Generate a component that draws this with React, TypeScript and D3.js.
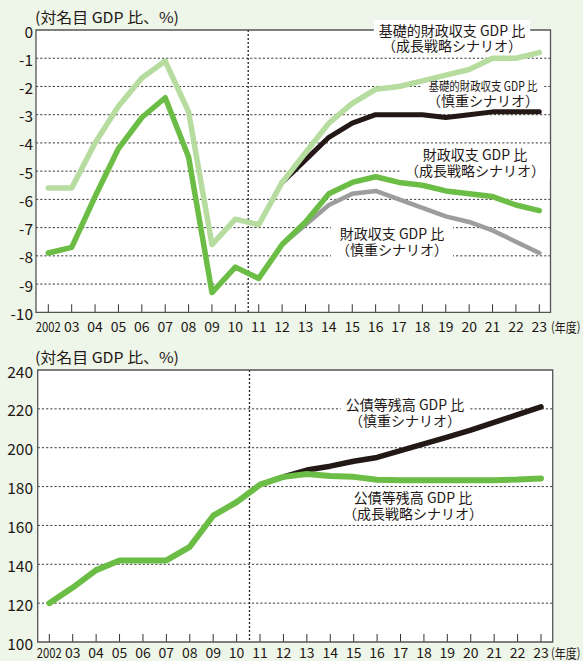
import { useLayoutEffect, useRef, useState } from "react";
import * as d3 from "d3";

// fiscal years on the x axis
const years = [2002, 2003, 2004, 2005, 2006, 2007, 2008, 2009, 2010, 2011, 2012,
  2013, 2014, 2015, 2016, 2017, 2018, 2019, 2020, 2021, 2022, 2023];
const yearLabels = ["2002", "03", "04", "05", "06", "07", "08", "09", "10", "11", "12",
  "13", "14", "15", "16", "17", "18", "19", "20", "21", "22", "23"];
const scenarioYears = [2012, 2013, 2014, 2015, 2016, 2017, 2018, 2019, 2020, 2021, 2022, 2023];

// top chart: balances (% of nominal GDP)
const primaryGrowth = [-5.6, -5.6, -4.0, -2.7, -1.7, -1.1, -2.9, -7.6, -6.7, -6.9, -5.4,
  -4.35, -3.3, -2.6, -2.1, -2.0, -1.8, -1.6, -1.4, -1.0, -1.0, -0.8];
const primaryCautious = [-5.4, -4.6, -3.8, -3.3, -3.0, -3.0, -3.0, -3.1, -3.0, -2.9, -2.9, -2.9];
const balanceGrowth = [-7.9, -7.7, -5.9, -4.2, -3.1, -2.4, -4.5, -9.3, -8.4, -8.8, -7.6,
  -6.8, -5.8, -5.4, -5.2, -5.4, -5.5, -5.7, -5.8, -5.9, -6.2, -6.4];
const balanceCautious = [-7.6, -6.9, -6.2, -5.8, -5.7, -6.0, -6.3, -6.6, -6.8, -7.1, -7.5, -7.9];
const topTicks = [0, -1, -2, -3, -4, -5, -6, -7, -8, -9, -10];

// bottom chart: public debt outstanding (% of nominal GDP)
const debtGrowth = [120, 128, 137, 142, 142, 142, 149, 165, 172, 181, 185,
  186.5, 185.5, 185, 183.5, 183.3, 183.2, 183.2, 183.2, 183.3, 183.6, 184.2];
const debtCautious = [185, 188.5, 190.5, 193, 195, 198.5, 202, 205.5, 209, 213, 217, 221];
const bottomTicks = [100, 120, 140, 160, 180, 200, 220, 240];

const BG = "#eef5e9";
const INK = "#231815";
const LIGHT_GREEN = "#b7dca0";
const GREEN = "#6cbd45";
const GRAY = "#9d9d9f";
const FONT = "'Noto Sans CJK JP', 'Noto Sans', sans-serif";

type Line = { text: string; size: number; dy: number; len?: number };

const Label = ({ x, y, lines }: { x: number; y: number; lines: Line[] }) => {
  const ref = useRef<SVGGElement>(null);
  const [box, setBox] = useState<DOMRect | null>(null);
  useLayoutEffect(() => {
    if (ref.current) setBox(ref.current.getBBox());
  }, []);
  return (
    <g>
      {box && (
        <rect x={box.x - 5} y={box.y} width={box.width + 10} height={box.height} fill="#fff" />
      )}
      <g ref={ref}>
        {lines.map((l, i) => (
          <text key={i} x={x} y={y + l.dy} textAnchor="middle" fontSize={l.size}
            fill={INK} fontFamily={FONT}
            {...(l.len ? { textLength: l.len, lengthAdjust: "spacingAndGlyphs" } : {})}>
            {l.text}
          </text>
        ))}
      </g>
    </g>
  );
};

const Axes = ({ x, y, left, right, top, bottom, ticks, grid, gap, labelDy }: any) => (
  <g>
    <rect x={left} y={top} width={right - left} height={bottom - top} fill="#fff" />
    {grid.map((t: number) => (
      <line key={t} x1={left} x2={right} y1={y(t)} y2={y(t)} stroke="#3a3a3a"
        strokeWidth={1} strokeDasharray="2.2,2" />
    ))}
    <line x1={x(2010.55)} x2={x(2010.55)} y1={top} y2={bottom} stroke="#222"
      strokeWidth={1.3} strokeDasharray="2,2" />
    {years.map((yr) => (
      <line key={yr} x1={x(yr)} x2={x(yr)} y1={bottom} y2={bottom - 8} stroke="#333" strokeWidth={1} />
    ))}
    <path
      d={gap
        ? `M${gap[0]},${top}H${left}V${bottom}H${right}V${top}H${gap[1]}`
        : `M${left},${top}H${right}V${bottom}H${left}Z`}
      fill="none" stroke="#555" strokeWidth={1.3} />
    {ticks.map((t: number) => (
      <text key={t} x={33} y={y(t) + 7.5} textAnchor="end" fontSize={15.5} fill={INK} fontFamily={FONT}>
        {t}
      </text>
    ))}
    {years.map((yr, i) => (
      <text key={yr} x={x(yr)} y={bottom + labelDy} textAnchor="middle" fontSize={14} fill={INK}
        fontFamily={FONT}
        {...(i === 0 ? { textLength: 25, lengthAdjust: "spacingAndGlyphs" } : {})}>
        {yearLabels[i]}
      </text>
    ))}
    <text x={551} y={bottom + labelDy} fontSize={13} fill={INK} fontFamily={FONT}
      textLength={29.5} lengthAdjust="spacingAndGlyphs">(年度)</text>
    <text x={35} y={top - 7} fontSize={15} fill={INK} fontFamily={FONT}
      textLength={144} lengthAdjust="spacingAndGlyphs">(対名目 GDP 比、%)</text>
  </g>
);

export default function App() {
  const xTop = d3.scaleLinear().domain([2002, 2023]).range([48.3, 539.3]);
  const yTop = d3.scaleLinear().domain([-10, 0]).range([312.3, 30]);
  const xBot = d3.scaleLinear().domain([2002, 2023]).range([49.3, 541]);
  const yBot = d3.scaleLinear().domain([100, 240]).range([642, 370]);

  const path = (xs: d3.ScaleLinear<number, number>, ys: d3.ScaleLinear<number, number>,
    yrs: number[], vals: number[]) =>
    d3.line<number>().x((_, i) => xs(yrs[i])).y((v) => ys(v))(vals) || "";

  const series = (d: string, color: string, w: number) => (
    <path d={d} fill="none" stroke={color} strokeWidth={w} strokeLinejoin="round" strokeLinecap="round" />
  );

  return (
    <svg width={583} height={661} style={{ position: "absolute", left: 0, top: 0, background: BG }}>
      <rect width={583} height={661} fill={BG} />

      {/* top chart */}
      <Axes x={xTop} y={yTop} left={36} right={550.5} top={30} bottom={312.3} labelDy={20}
        ticks={topTicks} grid={[-1, -2, -3, -4, -5, -6, -7, -8, -9]} gap={[376, 529]} />
      <Label x={452} y={36} lines={[
        { text: "基礎的財政収支 GDP 比", size: 14, dy: 0 },
        { text: "（成長戦略シナリオ）", size: 14, dy: 15 }]} />
      <Label x={483} y={91} lines={[
        { text: "基礎的財政収支 GDP 比", size: 12.5, dy: 0, len: 109 },
        { text: "（慎重シナリオ）", size: 14, dy: 15 }]} />
      <Label x={475} y={160} lines={[
        { text: "財政収支 GDP 比", size: 14, dy: 0 },
        { text: "（成長戦略シナリオ）", size: 14, dy: 15.5 }]} />
      <Label x={392} y={239} lines={[
        { text: "財政収支 GDP 比", size: 14, dy: 0 },
        { text: "（慎重シナリオ）", size: 14, dy: 15.5 }]} />
      {series(path(xTop, yTop, scenarioYears, primaryCautious), INK, 5)}
      {series(path(xTop, yTop, years, primaryGrowth), LIGHT_GREEN, 5.5)}
      {series(path(xTop, yTop, scenarioYears, balanceCautious), GRAY, 4.5)}
      {series(path(xTop, yTop, years, balanceGrowth), GREEN, 5.5)}

      {/* bottom chart */}
      <Axes x={xBot} y={yBot} left={37.7} right={552.7} top={370} bottom={642} labelDy={16}
        ticks={bottomTicks} grid={[120, 140, 160, 180, 200, 220]} />
      <Label x={405} y={410} lines={[
        { text: "公債等残高 GDP 比", size: 14, dy: 0 },
        { text: "（慎重シナリオ）", size: 14, dy: 15.5 }]} />
      <Label x={413} y={503} lines={[
        { text: "公債等残高 GDP 比", size: 14, dy: 0 },
        { text: "（成長戦略シナリオ）", size: 14, dy: 15.5 }]} />
      {series(path(xBot, yBot, scenarioYears, debtCautious), INK, 5.5)}
      {series(path(xBot, yBot, years, debtGrowth), GREEN, 6)}
    </svg>
  );
}
